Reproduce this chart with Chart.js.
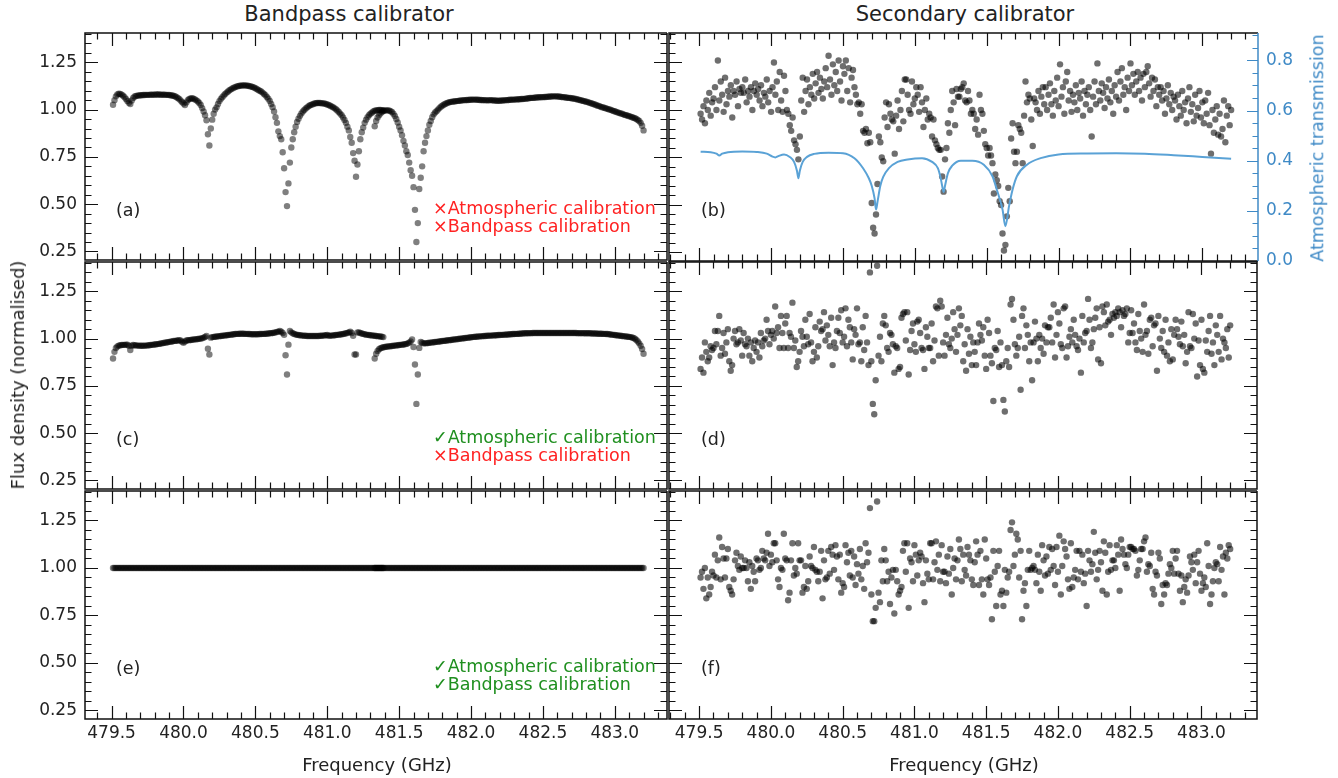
<!DOCTYPE html>
<html>
<head>
<meta charset="utf-8">
<script src="https://cdn.jsdelivr.net/npm/chart.js@4.4.1/dist/chart.umd.min.js"></script>
<style>
  html, body { margin: 0; padding: 0; background: #fff; }
  #fig { position: relative; width: 1338px; height: 778px; overflow: hidden;
         font-family: "DejaVu Sans", sans-serif; color: #222; }
  #fig canvas { position: absolute; }
  .lbl { position: absolute; white-space: nowrap; line-height: 1; }
</style>
</head>
<body>
<div id="fig"></div>
<script>
// channel grid (GHz)
const CH_STEP = 0.01;
const SPW1_START = 479.51;   // 189 channels, to 481.39
const SPW2_START = 481.33;   // 188 channels, to 483.20
const SEC_START = 479.51;    // 370 channels, to 483.20

const X_LABELS = [479.5, 480.0, 480.5, 481.0, 481.5, 482.0, 482.5, 483.0];
const Y_LABELS = [0.25, 0.50, 0.75, 1.00, 1.25];
const T_LABELS = [0.0, 0.2, 0.4, 0.6, 0.8];

// (a) bandpass calibrator, no calibration
const A_SPW1 = [
  1.026,1.05,1.07,1.08,1.084,1.083,1.079,1.073,1.065,1.056,
  1.046,1.036,1.03,1.048,1.062,1.069,1.072,1.074,1.075,1.076,
  1.076,1.077,1.077,1.078,1.078,1.078,1.079,1.079,1.079,1.079,
  1.08,1.08,1.08,1.079,1.079,1.079,1.079,1.078,1.078,1.077,
  1.076,1.075,1.073,1.071,1.067,1.062,1.056,1.048,1.04,1.032,
  1.024,1.038,1.05,1.056,1.059,1.06,1.058,1.054,1.049,1.043,
  1.035,1.024,1.008,0.99,0.97,0.944,0.87,0.81,0.9,0.947,
  0.978,1.0,1.012,1.03,1.045,1.057,1.066,1.075,1.083,1.09,
  1.096,1.102,1.107,1.112,1.116,1.119,1.122,1.124,1.126,1.127,
  1.128,1.128,1.128,1.127,1.126,1.124,1.122,1.12,1.117,1.113,
  1.109,1.104,1.1,1.096,1.09,1.083,1.076,1.067,1.058,1.046,
  1.03,1.013,0.99,0.96,0.93,0.885,0.86,0.843,0.775,0.69,
  0.564,0.49,0.61,0.72,0.8,0.843,0.88,0.91,0.935,0.952,
  0.967,0.98,0.99,0.998,1.006,1.012,1.018,1.023,1.026,1.029,
  1.032,1.034,1.035,1.035,1.035,1.034,1.033,1.032,1.03,1.027,
  1.024,1.021,1.017,1.013,1.008,1.002,0.995,0.987,0.979,0.97,
  0.958,0.945,0.93,0.91,0.89,0.855,0.825,0.77,0.73,0.645,
  0.71,0.78,0.843,0.88,0.905,0.93,0.947,0.96,0.97,0.978,
  0.984,0.99,0.994,0.996,0.997,0.998,0.998,0.997,0.995
];
const A_SPW2 = [
  0.912,0.94,0.958,0.97,0.98,0.988,0.993,0.995,
  0.996,0.996,0.995,0.992,0.987,0.978,0.966,0.95,0.932,0.91,
  0.89,0.865,0.835,0.81,0.78,0.76,0.72,0.68,0.65,0.59,
  0.47,0.3,0.4,0.58,0.64,0.7,0.78,0.825,0.86,0.89,
  0.92,0.94,0.96,0.975,0.985,0.992,1.0,1.008,1.015,1.021,
  1.026,1.03,1.034,1.037,1.039,1.041,1.042,1.043,1.044,1.045,
  1.046,1.047,1.048,1.049,1.05,1.05,1.051,1.051,1.052,1.052,
  1.053,1.053,1.053,1.052,1.052,1.051,1.051,1.05,1.05,1.05,
  1.049,1.049,1.05,1.05,1.049,1.048,1.048,1.047,1.047,1.047,
  1.048,1.048,1.049,1.05,1.05,1.051,1.052,1.052,1.053,1.053,
  1.054,1.054,1.055,1.055,1.056,1.056,1.057,1.058,1.059,1.06,
  1.061,1.062,1.062,1.063,1.064,1.064,1.065,1.065,1.066,1.066,
  1.067,1.067,1.068,1.068,1.069,1.069,1.07,1.07,1.07,1.069,
  1.069,1.068,1.067,1.066,1.065,1.064,1.063,1.062,1.061,1.06,
  1.059,1.058,1.056,1.054,1.052,1.05,1.048,1.046,1.044,1.042,
  1.04,1.037,1.035,1.032,1.03,1.027,1.024,1.021,1.019,1.016,
  1.013,1.011,1.009,1.006,1.004,1.001,0.999,0.996,0.993,0.991,
  0.988,0.985,0.983,0.98,0.978,0.975,0.972,0.97,0.968,0.965,
  0.963,0.96,0.957,0.954,0.95,0.945,0.94,0.93,0.915,0.89
];

// (c) bandpass calibrator, atmospheric calibration only
const C_SPW1 = [
  0.895,0.93,0.95,0.958,0.963,0.965,0.966,0.967,0.967,0.968,
  0.968,0.962,0.94,0.962,0.966,0.965,0.964,0.963,0.963,0.962,
  0.962,0.962,0.963,0.963,0.964,0.965,0.966,0.967,0.968,0.969,
  0.97,0.971,0.972,0.974,0.975,0.977,0.978,0.98,0.981,0.983,
  0.984,0.985,0.987,0.988,0.989,0.99,0.991,0.99,0.984,0.978,
  0.985,0.99,0.991,0.992,0.993,0.994,0.995,0.996,0.997,0.998,
  0.999,1.0,1.002,1.005,1.009,1.014,0.947,0.916,1.005,1.008,
  1.009,1.01,1.011,1.012,1.013,1.014,1.015,1.016,1.017,1.018,
  1.019,1.02,1.021,1.022,1.023,1.024,1.025,1.025,1.026,1.026,
  1.026,1.026,1.025,1.025,1.024,1.024,1.023,1.023,1.023,1.023,
  1.023,1.023,1.024,1.024,1.025,1.025,1.026,1.026,1.027,1.028,
  1.029,1.03,1.031,1.033,1.035,1.037,1.04,1.036,1.03,1.02,
  0.912,0.81,0.968,1.04,1.033,1.028,1.025,1.022,1.02,1.019,
  1.018,1.017,1.016,1.015,1.015,1.014,1.014,1.014,1.014,1.014,
  1.014,1.014,1.014,1.014,1.015,1.015,1.016,1.017,1.018,1.019,
  1.015,1.016,1.016,1.017,1.018,1.019,1.02,1.021,1.022,1.023,
  1.024,1.026,1.028,1.03,1.033,1.036,1.03,1.015,0.916,0.916,
  1.032,1.033,1.03,1.027,1.025,1.023,1.021,1.02,1.019,1.018,
  1.017,1.016,1.015,1.014,1.013,1.012,1.011,1.01,1.008
];
const C_SPW2 = [
  0.895,0.92,0.935,0.944,0.949,0.952,0.954,0.956,
  0.957,0.958,0.959,0.96,0.961,0.962,0.963,0.964,0.965,0.966,
  0.967,0.968,0.969,0.97,0.972,0.975,0.979,0.985,0.995,0.956,
  0.863,0.655,0.81,0.951,0.982,0.978,0.975,0.975,0.976,0.977,
  0.978,0.979,0.98,0.981,0.982,0.983,0.984,0.985,0.986,0.987,
  0.988,0.989,0.99,0.991,0.992,0.993,0.994,0.995,0.996,0.997,
  0.998,0.999,1.0,1.001,1.002,1.003,1.004,1.005,1.006,1.007,
  1.008,1.009,1.01,1.01,1.011,1.012,1.012,1.013,1.014,1.014,
  1.015,1.015,1.016,1.016,1.017,1.017,1.018,1.018,1.019,1.019,
  1.02,1.02,1.021,1.021,1.022,1.022,1.023,1.023,1.024,1.024,
  1.025,1.025,1.026,1.026,1.027,1.027,1.028,1.028,1.028,1.029,
  1.029,1.029,1.03,1.03,1.03,1.03,1.03,1.03,1.03,1.03,
  1.03,1.03,1.03,1.03,1.03,1.03,1.03,1.03,1.03,1.03,
  1.03,1.03,1.03,1.03,1.03,1.03,1.03,1.03,1.03,1.03,
  1.03,1.03,1.03,1.029,1.029,1.029,1.029,1.029,1.028,1.028,
  1.028,1.028,1.028,1.027,1.027,1.027,1.027,1.026,1.026,1.026,
  1.026,1.025,1.025,1.024,1.024,1.023,1.022,1.021,1.02,1.019,
  1.018,1.017,1.016,1.015,1.014,1.013,1.012,1.011,1.01,1.009,
  1.008,1.006,1.003,0.999,0.993,0.985,0.975,0.962,0.945,0.92
];

// (e) bandpass calibrator, both calibrations
const E_SPW1 = [
  1,1,1,1,1,1,1,1,1,1, 1,1,1,1,1,1,1,1,1,1, 1,1,1,1,1,1,1,1,1,1,
  1,1,1,1,1,1,1,1,1,1, 1,1,1,1,1,1,1,1,1,1, 1,1,1,1,1,1,1,1,1,1,
  1,1,1,1,1,1,1,1,1,1, 1,1,1,1,1,1,1,1,1,1, 1,1,1,1,1,1,1,1,1,1,
  1,1,1,1,1,1,1,1,1,1, 1,1,1,1,1,1,1,1,1,1, 1,1,1,1,1,1,1,1,1,1,
  1,1,1,1,1,1,1,1,1,1, 1,1,1,1,1,1,1,1,1,1, 1,1,1,1,1,1,1,1,1,1,
  1,1,1,1,1,1,1,1,1,1, 1,1,1,1,1,1,1,1,1,1, 1,1,1,1,1,1,1,1,1,1,
  1,1,1,1,1,1,1,1,1
];
const E_SPW2 = [
  1,1,1,1,1,1,1,1,
  1,1,1,1,1,1,1,1,1,1, 1,1,1,1,1,1,1,1,1,1, 1,1,1,1,1,1,1,1,1,1,
  1,1,1,1,1,1,1,1,1,1, 1,1,1,1,1,1,1,1,1,1, 1,1,1,1,1,1,1,1,1,1,
  1,1,1,1,1,1,1,1,1,1, 1,1,1,1,1,1,1,1,1,1, 1,1,1,1,1,1,1,1,1,1,
  1,1,1,1,1,1,1,1,1,1, 1,1,1,1,1,1,1,1,1,1, 1,1,1,1,1,1,1,1,1,1,
  1,1,1,1,1,1,1,1,1,1, 1,1,1,1,1,1,1,1,1,1, 1,1,1,1,1,1,1,1,1,1,
  1,1,1,1,1,1,1,1,1,1, 1,1,1,1,1,1,1,1,1,1, 1,1,1,1,1,1,1,1,1,1
];

// (b) secondary calibrator, no calibration
const B_SEC = [
  0.98,0.95,1.02,0.93,1.05,1.0,1.09,0.97,1.04,1.06,
  1.12,1.0,1.26,1.05,1.15,1.08,0.99,1.17,1.03,1.1,
  1.07,1.13,0.96,1.1,1.08,1.15,1.02,1.11,1.09,1.12,
  1.09,1.16,1.04,1.1,1.07,1.12,1.0,1.1,1.14,1.08,
  1.11,1.05,1.13,1.02,1.09,1.07,1.16,1.04,1.1,0.99,
  1.12,1.25,1.08,1.15,1.0,1.2,1.05,0.99,1.18,1.1,
  1.0,0.98,0.92,0.89,0.96,0.84,0.82,0.79,0.74,0.86,
  1.05,1.17,0.99,1.1,1.16,1.03,1.12,1.08,1.19,1.06,
  1.14,1.2,1.09,1.17,1.11,1.06,1.15,1.22,1.12,1.285,
  1.16,1.08,1.24,1.13,1.2,1.1,1.26,1.15,1.05,1.23,
  1.19,1.26,1.1,1.22,1.04,1.17,1.21,1.12,1.08,1.03,
  1.04,0.98,1.03,0.89,0.88,0.9,0.825,0.88,0.83,0.51,
  0.38,0.35,0.45,0.61,0.86,0.83,0.75,0.73,0.96,1.04,
  0.91,1.03,0.98,0.95,0.94,0.77,0.97,1.05,0.9,1.0,
  1.1,0.94,1.16,1.16,1.08,1.0,0.98,1.15,1.03,1.06,
  1.12,1.08,0.99,1.12,1.04,0.91,1.0,1.06,0.95,0.98,
  0.96,0.86,0.95,0.84,0.82,0.8,0.79,0.79,0.65,0.57,
  0.74,0.8,0.93,0.88,1.0,1.1,1.04,0.92,1.11,1.07,
  1.07,1.11,1.12,1.14,1.05,1.04,1.1,1.05,0.98,1.0,
  0.98,0.9,0.95,0.87,1.08,1.0,0.98,0.89,0.82,0.8,
  0.76,0.8,0.76,0.72,0.56,0.66,0.63,0.6,0.52,0.5,
  0.35,0.26,0.29,0.44,0.59,0.52,0.85,0.93,0.78,0.72,
  0.78,0.92,0.9,0.88,0.72,0.97,1.15,1.04,1.08,1.06,
  0.95,0.81,1.06,1.04,1.0,1.1,0.98,1.07,1.12,1.03,
  1.12,1.0,1.08,1.14,1.03,0.97,1.1,1.05,1.17,1.02,
  1.24,1.07,1.12,0.98,1.15,1.2,1.05,1.1,0.99,1.08,
  1.04,1.13,1.0,1.09,1.06,1.15,0.97,1.1,1.03,1.08,
  1.12,1.0,0.86,1.07,1.15,1.03,1.245,1.1,1.05,1.14,
  1.09,1.01,1.12,1.06,1.16,1.04,1.1,0.98,1.13,1.07,
  1.2,1.05,1.15,1.22,1.08,1.12,1.0,1.17,1.1,1.245,
  1.13,1.19,1.08,1.15,1.2,1.1,1.17,1.05,1.19,1.12,
  1.2,1.23,1.14,1.07,1.17,1.1,1.16,1.02,1.12,1.08,
  1.12,1.05,1.1,0.98,1.06,1.13,1.03,1.09,1.0,1.07,
  1.05,0.95,1.08,1.02,0.97,1.1,1.0,1.04,0.93,1.06,
  1.12,0.99,1.03,0.94,1.08,0.97,1.01,1.1,0.96,1.04,
  0.93,1.05,0.98,1.09,0.92,0.77,1.0,0.88,0.95,1.02,
  0.87,0.98,0.86,0.9,1.05,0.83,0.97,1.02,0.92,1.0
];

// (d) secondary calibrator, atmospheric calibration only
const D_SEC = [
  0.84,0.9,0.82,0.98,0.93,0.88,0.9,0.96,0.94,0.95,
  1.04,0.97,1.04,1.12,0.91,0.95,1.03,0.92,0.98,1.05,
  0.88,0.83,0.86,1.0,1.04,0.97,0.98,1.05,0.99,0.91,
  1.03,0.97,0.96,1.0,0.91,0.98,0.88,0.95,0.99,0.93,
  0.98,0.9,1.03,0.96,0.99,1.0,1.1,1.04,0.97,1.02,
  1.04,1.0,1.17,1.03,1.06,0.95,1.12,1.03,0.95,1.08,
  1.12,0.95,1.03,1.01,1.19,0.95,0.99,0.85,0.88,0.93,
  1.04,1.01,0.96,1.1,1.01,0.97,1.13,0.98,0.88,0.93,
  1.06,0.9,0.96,1.09,1.04,1.05,1.14,0.99,1.07,1.02,
  0.96,1.11,0.86,0.98,0.95,1.04,1.11,1.03,1.15,0.98,
  1.01,1.16,0.96,1.1,1.06,0.98,0.89,1.05,1.02,1.16,
  0.97,0.98,0.88,1.06,0.94,1.12,0.98,0.86,1.35,0.88,
  0.655,0.6,0.78,1.385,0.91,1.01,0.88,1.08,1.12,1.07,
  0.95,0.93,1.03,1.02,0.97,0.82,0.96,0.95,0.84,0.85,
  1.11,1.13,1.14,0.99,1.14,0.81,0.94,1.04,1.08,0.97,
  0.93,1.09,1.1,1.03,0.95,0.94,0.84,1.06,1.01,0.95,
  0.95,1.08,0.88,0.99,1.17,1.16,0.91,1.2,1.17,0.98,
  0.91,1.02,1.11,0.97,0.95,1.0,1.14,1.05,0.93,1.02,
  1.16,1.07,1.12,0.88,0.97,0.83,1.05,0.92,1.01,0.86,
  0.98,0.93,0.86,0.98,1.08,1.02,0.99,1.06,0.91,0.84,
  1.1,1.03,0.91,0.87,0.67,0.95,0.94,1.04,0.85,0.98,
  0.86,0.676,0.615,0.88,0.95,0.85,1.18,1.21,1.1,0.97,
  0.91,0.95,1.01,0.73,1.12,1.16,0.95,1.07,1.02,0.88,
  0.98,0.78,0.98,1.09,1.0,0.88,1.02,0.95,1.0,0.92,
  1.07,0.98,1.06,1.06,1.11,0.98,1.18,0.9,1.02,1.14,
  1.08,0.97,0.95,1.16,1.17,0.9,0.96,1.01,1.05,0.98,
  1.1,1.02,0.96,0.94,1.0,0.82,1.12,0.98,1.03,1.04,
  1.21,1.1,0.95,0.98,1.05,1.11,1.16,0.89,1.06,0.87,
  1.17,1.14,1.07,1.18,1.09,1.1,1.02,1.13,1.11,1.14,
  1.12,1.16,1.14,1.06,1.15,1.12,1.13,1.16,0.98,1.03,
  1.15,1.03,1.08,0.98,0.94,1.13,1.04,1.0,0.93,1.18,
  1.02,1.04,0.92,1.1,1.11,0.96,1.07,1.08,0.83,1.12,
  1.0,0.95,1.04,0.93,1.1,0.91,0.98,0.88,1.05,0.89,
  1.02,1.1,1.05,1.01,0.97,1.09,0.96,1.02,0.87,0.93,
  1.14,0.96,0.95,1.13,1.0,1.08,0.8,0.99,0.86,1.1,
  0.84,0.82,0.99,0.93,1.04,1.12,0.92,0.98,0.86,1.07,
  1.02,0.93,1.12,0.89,1.0,0.98,0.95,1.05,0.9,1.07
];

// (f) secondary calibrator, both calibrations
const F_SEC = [
  0.95,0.98,0.89,1.0,0.84,0.95,0.86,0.9,0.98,0.96,
  1.07,0.95,1.04,1.16,0.94,1.11,1.05,0.95,1.05,1.1,
  0.9,0.88,0.86,0.94,1.04,1.08,1.01,0.99,1.06,1.0,
  1.0,1.04,1.0,0.93,1.03,0.89,1.01,0.98,0.93,1.05,
  1.04,0.99,1.0,1.09,1.05,1.04,1.08,1.18,1.01,1.07,
  1.03,1.13,1.13,1.04,0.94,0.9,1.0,0.99,1.18,1.05,
  1.04,0.83,0.87,1.04,1.13,0.96,1.0,0.97,1.13,1.04,
  1.04,0.87,0.9,1.01,0.89,0.93,1.06,1.01,1.0,1.11,
  0.99,0.98,0.93,0.98,1.09,0.84,1.04,0.94,0.95,1.09,
  0.97,1.11,1.07,0.99,1.12,1.06,0.94,1.07,0.87,0.92,
  0.9,1.12,1.03,1.08,0.96,1.09,0.95,1.06,0.91,1.02,
  0.97,1.1,0.94,1.01,0.89,1.13,1.03,1.08,1.315,0.86,
  0.72,0.72,0.79,1.35,0.87,0.82,1.04,0.93,1.1,1.04,
  0.93,0.98,0.81,0.95,0.99,0.76,0.99,0.93,0.86,0.88,
  0.9,1.09,1.13,0.98,1.13,0.79,1.05,1.03,0.93,1.12,
  1.07,0.96,1.04,1.08,1.06,0.92,0.82,1.04,0.97,0.94,
  1.13,1.13,0.94,1.03,1.14,0.99,1.07,0.93,1.12,0.98,
  0.98,0.92,1.06,0.97,1.1,0.86,1.0,1.05,0.94,1.04,
  1.15,1.1,0.93,1.07,0.99,0.96,1.11,1.07,1.04,0.94,
  0.91,1.03,1.14,1.07,0.91,1.09,0.94,0.86,1.15,1.05,
  0.94,0.91,0.95,0.73,1.09,0.98,0.8,1.01,1.09,0.86,
  0.88,0.8,0.99,0.87,0.95,0.98,1.2,1.24,1.01,1.07,
  1.18,1.15,0.95,1.09,0.73,0.88,0.92,0.8,0.99,1.09,
  0.99,1.0,1.01,0.99,0.92,1.07,0.98,0.88,1.12,1.04,
  0.96,1.06,0.97,1.11,0.99,1.1,1.01,0.91,1.11,0.98,
  1.17,0.86,1.01,1.14,1.1,1.06,0.94,0.89,1.13,0.9,
  0.95,0.99,1.09,0.94,1.09,0.98,1.07,0.92,0.97,0.8,
  1.09,1.04,0.98,1.02,1.19,1.08,0.94,0.99,1.09,1.03,
  0.88,1.14,1.08,0.86,0.98,1.12,0.99,1.04,1.04,1.0,
  1.12,1.07,0.88,1.15,1.1,1.07,1.02,1.0,1.07,1.11,
  1.11,1.1,1.1,1.09,0.96,0.99,1.04,1.1,1.1,1.14,
  1.16,0.98,1.02,1.01,1.08,0.89,0.86,0.98,0.96,1.08,
  1.05,0.81,0.91,0.86,0.92,0.91,0.97,1.02,1.0,1.09,
  0.97,1.05,1.09,0.97,0.88,0.96,0.82,0.9,0.94,0.87,
  0.96,1.06,1.03,0.99,1.07,0.92,1.03,1.09,0.97,0.88,
  0.92,0.95,0.9,1.13,1.01,0.81,0.86,0.93,1.0,1.03,
  1.02,0.93,1.11,0.99,1.06,0.86,1.08,1.05,1.12,1.1
];

// atmospheric transmission model, panel (b)
const TRANS_FREQ = [479.51,479.58,479.62,479.64,479.66,479.70,479.80,479.90,479.97,480.01,
  480.03,480.05,480.09,480.13,480.16,480.18,480.19,480.20,480.22,480.25,480.30,480.40,480.50,
  480.58,480.64,480.68,480.70,480.72,480.73,480.74,480.76,480.78,480.82,480.88,480.95,481.05,
  481.12,481.16,481.18,481.19,481.20,481.21,481.23,481.26,481.32,481.40,481.48,481.54,481.57,
  481.61,481.63,481.655,481.68,481.71,481.78,481.875,482.0,482.2,482.4,482.6,482.8,483.0,483.2];
const TRANS_VAL = [0.436,0.434,0.428,0.421,0.428,0.434,0.437,0.435,0.428,0.416,
  0.413,0.418,0.425,0.415,0.395,0.36,0.33,0.36,0.395,0.415,0.427,0.432,0.43,
  0.41,0.37,0.33,0.3,0.25,0.205,0.235,0.3,0.335,0.37,0.395,0.405,0.41,
  0.395,0.37,0.33,0.3,0.275,0.3,0.35,0.38,0.4,0.4,0.384,0.338,0.285,
  0.205,0.139,0.218,0.285,0.338,0.384,0.41,0.425,0.429,0.43,0.428,0.422,0.415,0.408];

const BLUE_LINE = '#5aa2d6';
const BLUE_AXIS = '#3f8ac6';
const RED = '#ff2222';
const GREEN = '#1f8f1f';
const FONT = '"DejaVu Sans", sans-serif';

Chart.defaults.font.family = FONT;

function tickList(from, to, div, every) {
  const out = [];
  for (let k = from; k <= to; k++) out.push({ v: k / div, major: k % every === 0 });
  return out;
}
const X_TICKS_ALL = tickList(4793, 4834, 10, 5);
const Y_TICKS_ALL = tickList(5, 28, 20, 5);
const T_TICKS_ALL = tickList(0, 18, 20, 4);

function toPoints(start, values) {
  return values.map((v, i) => ({ x: start + i * CH_STEP, y: v }));
}

// frame and inward ticks on all four sides
const frameTicks = {
  id: 'frameTicks',
  afterDraw(chart, args, opts) {
    const { ctx, chartArea: a } = chart;
    const sx = chart.scales.x, sy = chart.scales.y;
    ctx.save();
    ctx.lineWidth = 1.2;
    ctx.strokeStyle = '#111';
    ctx.beginPath();
    X_TICKS_ALL.forEach(t => {
      const px = Math.round(sx.getPixelForValue(t.v)) + 0.5;
      if (px < a.left + 1 || px > a.right - 1) return;
      const len = t.major ? 13 : 6.5;
      ctx.moveTo(px, a.bottom); ctx.lineTo(px, a.bottom - len);
      ctx.moveTo(px, a.top); ctx.lineTo(px, a.top + len);
    });
    Y_TICKS_ALL.forEach(t => {
      const py = Math.round(sy.getPixelForValue(t.v)) + 0.5;
      if (py < a.top + 1 || py > a.bottom - 1) return;
      const len = t.major ? 13 : 6.5;
      ctx.moveTo(a.left, py); ctx.lineTo(a.left + len, py);
      if (!opts.twin) { ctx.moveTo(a.right, py); ctx.lineTo(a.right - len, py); }
    });
    ctx.stroke();

    if (opts.twin) {
      const st = chart.scales.y2;
      ctx.strokeStyle = BLUE_AXIS;
      ctx.beginPath();
      T_TICKS_ALL.forEach(t => {
        const py = Math.round(st.getPixelForValue(t.v)) + 0.5;
        if (py < a.top + 1 || py > a.bottom + 1) return;
        const len = t.major ? 11 : 5.5;
        ctx.moveTo(a.right, py); ctx.lineTo(a.right - len, py);
      });
      ctx.stroke();
    }

    ctx.lineWidth = 1.5;
    ctx.strokeStyle = '#111';
    ctx.beginPath();
    ctx.moveTo(a.right, a.top); ctx.lineTo(a.left, a.top);
    ctx.lineTo(a.left, a.bottom); ctx.lineTo(a.right, a.bottom);
    if (!opts.twin) ctx.lineTo(a.right, a.top);
    ctx.stroke();
    if (opts.twin) {
      ctx.strokeStyle = BLUE_AXIS;
      ctx.beginPath(); ctx.moveTo(a.right, a.top); ctx.lineTo(a.right, a.bottom); ctx.stroke();
    }
    ctx.restore();
  }
};

const fig = document.getElementById('fig');
const ROW_TOP = [32, 261, 490];
const ROW_H = 229;
const PAD = 3;
const Y_MIN = 0.205, Y_MAX = 1.405;

function scatterSet(points, alpha) {
  return {
    data: points,
    pointRadius: 3.2,
    pointBorderWidth: 0,
    pointBackgroundColor: `rgba(0,0,0,${alpha})`,
    showLine: false,
    order: 2
  };
}

function makePanel({ col, row, datasets, twin, xMin, xMax }) {
  const bottom = row === 2;
  const extraB = twin ? 14 : 0;
  const left = col === 0 ? 0 : 668 - PAD;
  const width = col === 0 ? 668 + PAD : PAD + 590 + (twin ? 80 : PAD);
  const top = ROW_TOP[row] - PAD;
  const height = PAD + ROW_H + (bottom ? 50 : PAD) + extraB;
  const cv = document.createElement('canvas');
  cv.width = width; cv.height = height;
  cv.style.left = left + 'px'; cv.style.top = top + 'px';
  fig.appendChild(cv);

  const tickFont = { size: 17, family: FONT };
  const scales = {
    x: {
      type: 'linear', min: xMin, max: xMax,
      afterBuildTicks: s => { s.ticks = X_LABELS.map(v => ({ value: v })); },
      afterFit: s => { s.height = bottom ? 50 : 0; s.paddingLeft = 0; s.paddingRight = 0; },
      grid: { display: false, drawTicks: false }, border: { display: false },
      ticks: { display: bottom, autoSkip: false, maxRotation: 0, padding: 4, color: '#222',
               font: tickFont, callback: v => Number(v).toFixed(1) }
    },
    y: {
      type: 'linear', min: Y_MIN, max: Y_MAX,
      afterBuildTicks: s => { s.ticks = Y_LABELS.map(v => ({ value: v })); },
      afterFit: s => { s.width = col === 0 ? 85 : 0; s.paddingTop = 0; s.paddingBottom = 0; },
      grid: { display: false, drawTicks: false }, border: { display: false },
      ticks: { display: col === 0, autoSkip: false, padding: 8, color: '#222',
               font: tickFont, callback: v => Number(v).toFixed(2) }
    }
  };
  if (twin) {
    scales.y2 = {
      type: 'linear', position: 'right', min: 0, max: 0.909,
      afterBuildTicks: s => { s.ticks = T_LABELS.map(v => ({ value: v })); },
      afterFit: s => { s.width = 80; s.paddingTop = 0; s.paddingBottom = 0; },
      grid: { display: false, drawTicks: false }, border: { display: false },
      ticks: { autoSkip: false, padding: 8, color: BLUE_AXIS, font: tickFont,
               callback: v => Number(v).toFixed(1) }
    };
  }

  return new Chart(cv, {
    type: 'scatter',
    data: { datasets },
    options: {
      responsive: false, animation: false, devicePixelRatio: 1,
      layout: { padding: { left: col === 0 ? 0 : PAD, right: twin ? 0 : PAD,
                           top: PAD, bottom: (bottom ? 0 : PAD) + extraB } },
      plugins: { legend: { display: false }, tooltip: { enabled: false }, frameTicks: { twin: !!twin } },
      scales
    },
    plugins: [frameTicks]
  });
}

const LX = [479.315, 483.363];
const RX = [479.29, 483.387];

makePanel({ col: 0, row: 0, xMin: LX[0], xMax: LX[1],
  datasets: [scatterSet(toPoints(SPW1_START, A_SPW1), 0.5), scatterSet(toPoints(SPW2_START, A_SPW2), 0.5)] });
makePanel({ col: 0, row: 1, xMin: LX[0], xMax: LX[1],
  datasets: [scatterSet(toPoints(SPW1_START, C_SPW1), 0.5), scatterSet(toPoints(SPW2_START, C_SPW2), 0.5)] });
makePanel({ col: 0, row: 2, xMin: LX[0], xMax: LX[1],
  datasets: [scatterSet(toPoints(SPW1_START, E_SPW1), 0.5), scatterSet(toPoints(SPW2_START, E_SPW2), 0.5)] });

makePanel({ col: 1, row: 0, xMin: RX[0], xMax: RX[1], twin: true,
  datasets: [
    { data: TRANS_FREQ.map((f, i) => ({ x: f, y: TRANS_VAL[i] })), yAxisID: 'y2',
      showLine: true, pointRadius: 0, borderColor: BLUE_LINE, borderWidth: 2,
      cubicInterpolationMode: 'monotone', order: 1 },
    scatterSet(toPoints(SEC_START, B_SEC), 0.57)
  ] });
makePanel({ col: 1, row: 1, xMin: RX[0], xMax: RX[1],
  datasets: [scatterSet(toPoints(SEC_START, D_SEC), 0.57)] });
makePanel({ col: 1, row: 2, xMin: RX[0], xMax: RX[1],
  datasets: [scatterSet(toPoints(SEC_START, F_SEC), 0.57)] });

// text
function addText(html, x, y, opt = {}) {
  const d = document.createElement('div');
  d.className = 'lbl';
  d.innerHTML = html;
  d.style.left = x + 'px';
  d.style.top = y + 'px';
  d.style.fontSize = (opt.size || 18) + 'px';
  if (opt.color) d.style.color = opt.color;
  const tx = opt.align === 'left' ? '0' : '-50%';
  d.style.transform = `translate(${tx},-50%)` + (opt.rotate ? ` rotate(${opt.rotate}deg)` : '');
  fig.appendChild(d);
}

addText('Bandpass calibrator', 349, 14, { size: 21 });
addText('Secondary calibrator', 965, 14, { size: 21 });
addText('Frequency (GHz)', 377, 765, { size: 18 });
addText('Frequency (GHz)', 964, 765, { size: 18 });
addText('Flux density (normalised)', 18, 375, { size: 18, rotate: -90 });
addText('Atmospheric transmission', 1318, 148, { size: 17.5, rotate: -90, color: BLUE_AXIS });

const PANEL_TAGS = ['(a)', '(b)', '(c)', '(d)', '(e)', '(f)'];
PANEL_TAGS.forEach((t, i) => {
  const col = i % 2, row = Math.floor(i / 2);
  addText(t, col === 0 ? 116 : 701, ROW_TOP[row] + 179, { size: 17.5, align: 'left' });
});

const CROSS = '\u00d7', CHECK = '\u2713';
const NOTES = [
  [[CROSS, 'Atmospheric calibration', RED], [CROSS, 'Bandpass calibration', RED]],
  [[CHECK, 'Atmospheric calibration', GREEN], [CROSS, 'Bandpass calibration', RED]],
  [[CHECK, 'Atmospheric calibration', GREEN], [CHECK, 'Bandpass calibration', GREEN]]
];
NOTES.forEach((lines, row) => {
  lines.forEach(([mark, text, color], k) => {
    addText(mark + text, 433, ROW_TOP[row] + 177 + k * 17.5, { size: 17.5, color, align: 'left' });
  });
});
</script>
</body>
</html>
